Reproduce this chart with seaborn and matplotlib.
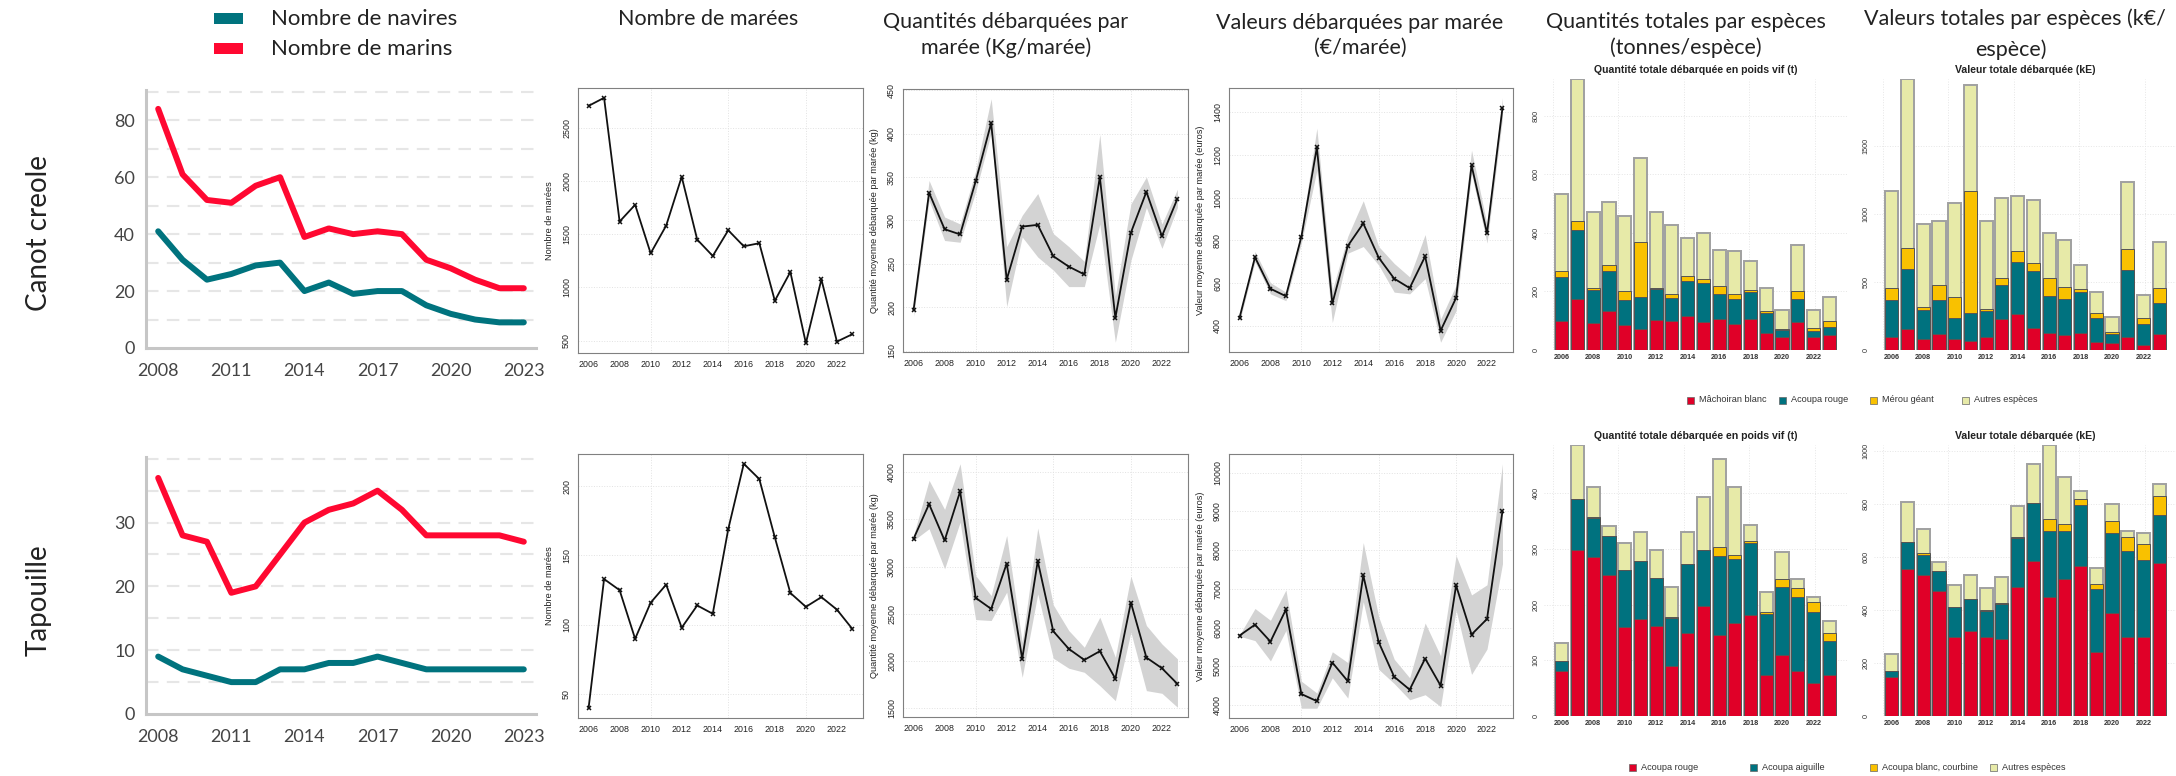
import numpy as np
import pandas as pd
import matplotlib
matplotlib.use("Agg")
import matplotlib.pyplot as plt
from matplotlib.patches import Rectangle
import seaborn as sns

# ---------------- data ----------------
annees_equipage = list(range(2008, 2024))
navires_canot = [41, 31, 24, 26, 29, 30, 20, 23, 19, 20, 20, 15, 12, 10, 9, 9]
marins_canot = [84, 61, 52, 51, 57, 60, 39, 42, 40, 41, 40, 31, 28, 24, 21, 21]
navires_tapouille = [9, 7, 6, 5, 5, 7, 7, 8, 8, 9, 8, 7, 7, 7, 7, 7]
marins_tapouille = [37, 28, 27, 19, 20, 25, 30, 32, 33, 35, 32, 28, 28, 28, 28, 27]
ticks_equipage = [2008, 2011, 2014, 2017, 2020, 2023]

annees = list(range(2006, 2024))

marees_canot = [2711, 2787, 1621, 1779, 1322, 1583, 2043, 1451, 1297, 1539, 1388, 1417, 875, 1146, 475, 1076, 490, 560]
marees_tapouille = [40, 133, 125, 90, 116, 129, 98, 114, 108, 169, 216, 205, 163, 123, 113, 120, 111, 97]

qte_canot = [197, 332, 290, 284, 345, 412, 232, 293, 295, 259, 247, 238, 350, 188, 286, 333, 282, 325]
qte_canot_bas = [190, 323, 277, 275, 333, 401, 201, 281, 258, 243, 224, 224, 296, 160, 254, 315, 268, 315]
qte_canot_haut = [201, 346, 304, 296, 357, 440, 270, 306, 331, 285, 270, 253, 399, 213, 319, 350, 296, 336]

val_canot = [438, 721, 574, 539, 817, 1234, 505, 774, 879, 719, 621, 577, 725, 378, 531, 1150, 833, 1419]
val_canot_bas = [420, 700, 550, 518, 787, 1127, 416, 740, 771, 684, 558, 550, 621, 324, 471, 1111, 787, 1372]
val_canot_haut = [450, 748, 602, 558, 842, 1324, 566, 819, 985, 771, 692, 629, 827, 432, 590, 1221, 874, 1466]

qte_tapouille = [3294, 3661, 3276, 3795, 2669, 2552, 3032, 2023, 3057, 2316, 2129, 2012, 2104, 1814, 2619, 2037, 1924, 1758]
qte_tapouille_bas = [3276, 3400, 2976, 3470, 2439, 2429, 2729, 1828, 2711, 2030, 1924, 1881, 1740, 1581, 2305, 1687, 1659, 1511]
qte_tapouille_haut = [3329, 3912, 3605, 4088, 2905, 2693, 3329, 2199, 3407, 2595, 2323, 2146, 2464, 2040, 2898, 2376, 2181, 2023]

val_tapouille = [5796, 6076, 5640, 6468, 4288, 4105, 5100, 4619, 7349, 5622, 4733, 4401, 5203, 4506, 7087, 5823, 6224, 9006]
val_tapouille_bas = [5780, 5666, 5142, 5927, 3922, 3922, 4706, 4183, 6669, 4924, 4558, 4140, 4270, 3965, 6451, 4794, 5448, 7645]
val_tapouille_haut = [5810, 6494, 6189, 6974, 4619, 4314, 5378, 5099, 8195, 6276, 5186, 4706, 6119, 5273, 7863, 6843, 7105, 10226]

# species totals - Canot creole (quantity t)
especes_canot = ["Mâchoiran blanc", "Acoupa rouge", "Mérou géant", "Autres espèces"]
qte_machoiran = [99, 173, 93, 134, 84, 71, 103, 100, 117, 95, 105, 89, 105, 57, 46, 97, 43, 51]
qte_acoupa_rouge_c = [149, 237, 113, 135, 87, 109, 106, 78, 118, 133, 85, 84, 94, 69, 21, 76, 22, 29]
qte_merou = [21, 32, 5, 20, 31, 188, 2, 13, 17, 14, 28, 17, 6, 6, 4, 29, 9, 18]
qte_autres_c = [263, 483, 260, 216, 256, 287, 261, 235, 130, 157, 122, 147, 100, 81, 65, 158, 63, 82]
# Canot creole (value kE)
val_machoiran = [93, 152, 81, 120, 78, 64, 93, 225, 262, 164, 123, 110, 123, 61, 49, 93, 39, 120]
val_acoupa_rouge_c = [275, 444, 213, 248, 157, 206, 194, 250, 385, 414, 272, 265, 303, 174, 71, 495, 152, 223]
val_merou = [88, 154, 20, 107, 152, 897, 12, 57, 78, 62, 137, 86, 23, 35, 15, 152, 44, 115]
val_autres_c = [711, 1240, 612, 471, 689, 779, 647, 583, 405, 460, 326, 345, 178, 156, 110, 493, 167, 334]

# Tapouille
especes_tapouille = ["Acoupa rouge", "Acoupa aiguille", "Acoupa blanc, courbine", "Autres espèces"]
qte_acoupa_rouge_t = [80, 299, 285, 253, 160, 174, 161, 89, 149, 197, 146, 168, 182, 73, 109, 80, 60, 74]
qte_aiguille = [19, 91, 70, 70, 102, 105, 87, 88, 124, 101, 141, 115, 128, 110, 123, 134, 127, 60]
qte_blanc = [0, 0, 2, 0, 0, 0, 0, 1, 1, 0, 16, 7, 5, 4, 15, 16, 17, 15]
qte_autres_t = [33, 97, 54, 19, 48, 51, 50, 53, 56, 95, 158, 122, 29, 36, 48, 16, 9, 22]
val_acoupa_rouge_t = [146, 555, 530, 470, 296, 321, 299, 289, 487, 585, 447, 515, 567, 240, 387, 299, 299, 578]
val_aiguille = [23, 100, 76, 76, 113, 118, 98, 133, 183, 216, 249, 181, 228, 240, 301, 322, 287, 179]
val_blanc = [0, 0, 9, 0, 0, 0, 2, 4, 3, 0, 47, 26, 21, 16, 46, 52, 61, 70]
val_autres_t = [63, 151, 89, 33, 86, 91, 82, 99, 119, 147, 278, 177, 30, 60, 66, 24, 41, 46]

# ---------------- style ----------------
sns.set_style("white")
plt.rcParams["font.family"] = ["Lato", "DejaVu Sans"]
R_FONT = ["Liberation Sans", "DejaVu Sans"]

C_TEAL = "#00737E"
C_RED = "#FF0831"
B_RED = "#E00028"
B_TEAL = "#00727F"
B_YEL = "#F9C100"
B_PALE = "#E7EAA8"

W, H = 2176, 776
fig = plt.figure(figsize=(W / 100, H / 100), dpi=100)


def add_ax(l, t, r, b):
    return fig.add_axes([l / W, 1 - b / H, (r - l) / W, (b - t) / H])


def ftext(x, y, s, **kw):
    return fig.text(x / W, 1 - y / H, s, **kw)


def frect(x, y, w, h, **kw):
    fig.add_artist(Rectangle((x / W, 1 - (y + h) / H), w / W, h / H,
                             transform=fig.transFigure, **kw))


# ---------------- crew panels ----------------
def crew_panel(l, t, r, b, nav, mar, ymax, grid_step, lab_step):
    ax = add_ax(l, t, r, b)
    df = pd.DataFrame({"annee": annees_equipage, "navires": nav, "marins": mar})
    for g in np.arange(grid_step, ymax + 0.01, grid_step):
        ax.axhline(g, color="#e6e6e6", lw=1.5, ls=(0, (6, 4)), zorder=0)
    sns.lineplot(data=df, x="annee", y="navires", ax=ax, color=C_TEAL, lw=4.3, zorder=3)
    sns.lineplot(data=df, x="annee", y="marins", ax=ax, color=C_RED, lw=4.3, zorder=3)
    ax.set_xlim(annees_equipage[0] - 0.5, annees_equipage[-1] + 0.5)
    ax.set_ylim(0, ymax * 1.007)
    ax.set_xlabel("")
    ax.set_ylabel("")
    for s in ["top", "right"]:
        ax.spines[s].set_visible(False)
    for s in ["left", "bottom"]:
        ax.spines[s].set_color("#c6c6c6")
        ax.spines[s].set_linewidth(2.2)
    ax.set_xticks(annees_equipage)
    ax.set_xticklabels([str(a) if a in ticks_equipage else "" for a in annees_equipage])
    ax.set_yticks(np.arange(0, ymax, lab_step))
    ax.tick_params(axis="x", length=7, width=1.6, color="#c6c6c6", labelsize=13,
                   labelcolor="#444", pad=4)
    ax.tick_params(axis="y", length=5, width=1.6, color="#c6c6c6", labelsize=13,
                   labelcolor="#444", pad=3)
    ax.patch.set_alpha(0)
    return ax


crew_panel(146, 90, 536, 348, navires_canot, marins_canot, 90, 10, 20)
crew_panel(146, 457, 536, 714, navires_tapouille, marins_tapouille, 40, 5, 10)

# legend of crew panels
frect(214, 13, 29, 11, color=C_TEAL, lw=0)
frect(214, 43, 29, 11, color=C_RED, lw=0)
ftext(271, 19, "Nombre de navires", fontsize=16, va="center", ha="left", color="#222")
ftext(271, 49, "Nombre de marins", fontsize=16, va="center", ha="left", color="#222")

# row labels
ftext(39, 233, "Canot creole", rotation=90, fontsize=20, ha="center", va="center", color="#222")
ftext(39, 600, "Tapouille", rotation=90, fontsize=20, ha="center", va="center", color="#222")


# ---------------- R-style line panels ----------------
def r_panel(l, t, r, b, vals, yticks, ylabel, lo=None, hi=None):
    ax = add_ax(l, t, r, b)
    allv = list(vals) + (list(lo) + list(hi) if lo is not None else [])
    vmin, vmax = min(allv), max(allv)
    rng = vmax - vmin
    ax.set_ylim(vmin - 0.04 * rng, vmax + 0.04 * rng)
    xr = annees[-1] - annees[0]
    ax.set_xlim(annees[0] - 0.04 * xr, annees[-1] + 0.04 * xr)
    for y in yticks:
        ax.axhline(y, color="#e2e2e2", lw=0.7, ls=":", zorder=0)
    for x in [2010, 2015, 2020]:
        ax.axvline(x, color="#e2e2e2", lw=0.7, ls=":", zorder=0)
    if lo is not None:
        ax.fill_between(annees, lo, hi, color="#d3d3d3", lw=0, zorder=1)
    sns.lineplot(x=annees, y=vals, ax=ax, color="#111", lw=1.3, marker="x",
                 markersize=3.4, markeredgewidth=1.1, markeredgecolor="#111", zorder=3)
    for s in ax.spines.values():
        s.set_visible(True)
        s.set_color("#808080")
        s.set_linewidth(0.8)
    ax.set_xticks(annees)
    ax.set_xticklabels([str(a) if a % 2 == 0 else "" for a in annees], family=R_FONT)
    ax.set_yticks(yticks)
    ax.set_yticklabels([str(v) for v in yticks], rotation=90, va="center", family=R_FONT)
    ax.tick_params(length=3, width=0.6, color="#555", labelsize=6.4, labelcolor="#222", pad=2)
    ax.set_ylabel(ylabel, fontsize=6.6, family=R_FONT, color="#222")
    ax.yaxis.set_label_coords(-0.085, 0.5)
    ax.set_xlabel("")
    return ax


r_panel(578, 88, 863, 353, marees_canot, [500, 1000, 1500, 2000, 2500], "Nombre de marées")
r_panel(578, 454, 863, 718, marees_tapouille, [50, 100, 150, 200], "Nombre de marées")
r_panel(903, 89, 1188, 352, qte_canot, [150, 200, 250, 300, 350, 400, 450],
        "Quantité moyenne débarquée par marée (kg)", qte_canot_bas, qte_canot_haut)
r_panel(903, 454, 1188, 717, qte_tapouille, [1500, 2000, 2500, 3000, 3500, 4000],
        "Quantité moyenne débarquée par marée (kg)", qte_tapouille_bas, qte_tapouille_haut)
r_panel(1229, 88, 1513, 352, val_canot, [400, 600, 800, 1000, 1200, 1400],
        "Valeur moyenne débarquée par marée (euros)", val_canot_bas, val_canot_haut)
r_panel(1229, 454, 1513, 718, val_tapouille, [4000, 5000, 6000, 7000, 8000, 9000, 10000],
        "Valeur moyenne débarquée par marée (euros)", val_tapouille_bas, val_tapouille_haut)


# ---------------- stacked bar panels ----------------
BAR_COLORS = [B_RED, B_TEAL, B_YEL, B_PALE]


def bar_panel(l, t, r, b, layers, yticks, title):
    ax = add_ax(l, t, r, b)
    cum = np.cumsum(np.array(layers, dtype=float), axis=0)
    # R barplot geometry: mids 0.7 + 1.2 i, width 1
    n = len(annees)
    wl, wr = 0.2, 0.7 + 1.2 * (n - 1) + 0.5
    pad = 0.04 * (wr - wl)
    to_year = lambda u: annees[0] + (u - 0.7) / 1.2
    for y in yticks:
        ax.axhline(y, color="#e6e6e6", lw=0.7, ls=":", zorder=0)
    for u in [0, 5, 10, 15, 20]:
        ax.axvline(to_year(u), color="#e6e6e6", lw=0.7, ls=":", zorder=0)
    for i in reversed(range(len(layers))):
        sns.barplot(x=annees, y=cum[i], ax=ax, color=BAR_COLORS[i], native_scale=True,
                    orient="x", width=1 / 1.2, saturation=1, errorbar=None,
                    edgecolor="#a0a0a0" if i == len(layers) - 1 else "#555",
                    linewidth=1.4 if i == len(layers) - 1 else 0.7, zorder=2)
    ax.set_xlim(to_year(wl - pad), to_year(wr + pad))
    ax.set_ylim(0, cum[-1].max())
    for s in ax.spines.values():
        s.set_visible(False)
    ax.set_xticks([a for a in annees if a % 2 == 0])
    ax.set_xticklabels([str(a) for a in annees if a % 2 == 0], family=R_FONT,
                       fontweight="bold", fontsize=5.2, color="#333")
    ax.set_yticks(yticks)
    ax.set_yticklabels([str(v) for v in yticks], rotation=90, va="center", family=R_FONT,
                       fontsize=5.2, color="#333")
    ax.tick_params(length=0, pad=3)
    ax.set_xlabel("")
    ax.set_ylabel("")
    ax.set_title(title, fontsize=7.6, fontweight="bold", family=R_FONT, color="#222", pad=4)
    return ax


bar_panel(1544, 79, 1847, 350, [qte_machoiran, qte_acoupa_rouge_c, qte_merou, qte_autres_c],
          [0, 200, 400, 600, 800], "Quantité totale débarquée en poids vif (t)")
bar_panel(1874, 79, 2177, 350, [val_machoiran, val_acoupa_rouge_c, val_merou, val_autres_c],
          [0, 500, 1000, 1500], "Valeur totale débarquée (kE)")
bar_panel(1544, 445, 1847, 716, [qte_acoupa_rouge_t, qte_aiguille, qte_blanc, qte_autres_t],
          [0, 100, 200, 300, 400], "Quantité totale débarquée en poids vif (t)")
bar_panel(1874, 445, 2177, 716, [val_acoupa_rouge_t, val_aiguille, val_blanc, val_autres_t],
          [0, 200, 400, 600, 800, 1000], "Valeur totale débarquée (kE)")


def bar_legend(y, names, xs):
    for name, x, c in zip(names, xs, BAR_COLORS):
        frect(x, y - 3.5, 7, 7, facecolor=c, edgecolor="#666", lw=0.5)
        ftext(x + 12, y, name, fontsize=6.6, family=R_FONT, va="center", ha="left", color="#333")


bar_legend(400, especes_canot, [1687, 1779, 1870, 1962])
bar_legend(767, especes_tapouille, [1629, 1750, 1870, 1990])

# ---------------- column titles ----------------
TK = dict(fontsize=15.5, color="#222", linespacing=1.3)
ftext(708, 19, "Nombre de marées", ha="center", va="center", **TK)
ftext(1006, 35, "Quantités débarquées par\nmarée (Kg/marée)", ha="center", va="center", multialignment="center", **TK)
ftext(1360, 35, "Valeurs débarquées par marée\n(€/marée)", ha="center", va="center", multialignment="center", **TK)
ftext(1686, 35, "Quantités totales par espèces\n(tonnes/espèce)", ha="center", va="center", multialignment="center", **TK)
ftext(1864, 19, "Valeurs totales par espèces (k€/", ha="left", va="center", **TK)
ftext(2011, 50, "espèce)", ha="center", va="center", **TK)

fig.savefig("out.png", dpi=100)
